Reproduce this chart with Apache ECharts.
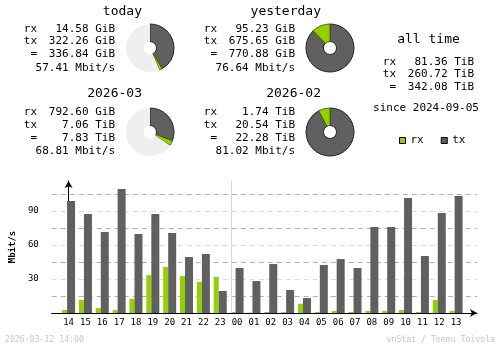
<!DOCTYPE html>
<html>
<head>
<meta charset="utf-8">
<script src="https://cdn.jsdelivr.net/npm/echarts@6/dist/echarts.min.js"></script>
<style>
html,body{margin:0;padding:0;background:#fff;}
#c{width:500px;height:348px;}
</style>
</head>
<body>
<div id="c"></div>
<script>
// ---- data ----
const hours = ['14','15','16','17','18','19','20','21','22','23','00','01','02','03','04','05','06','07','08','09','10','11','12','13'];
const rxRate = [2.6, 11.5, 4.4, 2.6, 12.4, 33.5, 40.6, 32.6, 27.4, 31.8, 0.9, 0.3, 0.9, 0.9, 8.2, 0.9, 1.8, 0.9, 1.8, 1.8, 2.6, 0.9, 11.5, 1.8];
const txRate = [98.8, 87.4, 71.5, 109.4, 69.7, 87.4, 70.6, 49.4, 52.1, 19.4, 39.7, 28.2, 43.2, 20.3, 13.2, 42.4, 47.6, 39.7, 75.9, 75.9, 101.5, 50.3, 88.2, 103.2];
const yTicks = [30, 60, 90];

// pie values: [tx, rx, remaining estimate]
const todayPie = [322.26, 14.58, 437];      // GiB
const yesterdayPie = [675.65, 95.23, 0];    // GiB
const monthPie = [7.06, 0.774, 14.93];      // TiB
const prevMonthPie = [20.54, 1.74, 0];      // TiB

const todayText = ['rx', '14.58 GiB', 'tx', '322.26 GiB', '=', '336.84 GiB', '57.41 Mbit/s'];
const yesterdayText = ['rx', '95.23 GiB', 'tx', '675.65 GiB', '=', '770.88 GiB', '76.64 Mbit/s'];
const monthText = ['rx', '792.60 GiB', 'tx', '7.06 TiB', '=', '7.83 TiB', '68.81 Mbit/s'];
const prevMonthText = ['rx', '1.74 TiB', 'tx', '20.54 TiB', '=', '22.28 TiB', '81.02 Mbit/s'];
const allTimeText = ['rx', '81.36 TiB', 'tx', '260.72 TiB', '=', '342.08 TiB'];
const sinceText = 'since 2024-09-05';
const footerLeft = '2026-03-12 14:00';
const footerRight = 'vnStat / Teemu Toivola';

// ---- style ----
const RX = '#94d000', TX = '#606060', REST = '#efefef';
const MONO = '"DejaVu Sans Mono", "Liberation Mono", monospace';

const chart = echarts.init(document.getElementById('c'), null, {renderer: 'canvas'});

function pieSeries(vals, cx, cy) {
  return {
    type: 'pie', silent: true, animation: false,
    center: [cx, cy], radius: [6.5, 24], startAngle: 90, clockwise: true,
    label: {show: false}, labelLine: {show: false},
    emphasis: {disabled: true},
    data: [
      {value: vals[0], itemStyle: {color: TX, borderColor: '#222', borderWidth: 1}},
      {value: vals[1], itemStyle: {color: RX, borderColor: '#4a6b00', borderWidth: 1}},
      {value: vals[2], itemStyle: {color: REST, borderWidth: 0}}
    ]
  };
}

function txt(text, x, y, align, size, color, weight) {
  return {
    type: 'text', x: x, y: y, silent: true,
    style: {text: text, align: align, verticalAlign: 'middle',
      font: (weight || 'normal') + ' ' + size + 'px ' + MONO, fill: color || '#000'}
  };
}

function block(t, labelRight, valueRight, ys) {
  return [
    txt(t[0], labelRight, ys[0], 'right', 11), txt(t[1], valueRight, ys[0], 'right', 11),
    txt(t[2], labelRight, ys[1], 'right', 11), txt(t[3], valueRight, ys[1], 'right', 11),
    txt(t[4], labelRight, ys[2], 'right', 11), txt(t[5], valueRight, ys[2], 'right', 11),
    txt(t[6], valueRight, ys[3], 'right', 11)
  ];
}

const graphics = [].concat(
  [txt('today', 142, 11.5, 'right', 13)],
  block(todayText, 37, 115, [29, 41.5, 54.5, 68]),
  [txt('yesterday', 321, 11.5, 'right', 13)],
  block(yesterdayText, 217, 295, [29, 41.5, 54.5, 68]),
  [txt('2026-03', 142, 94, 'right', 13)],
  block(monthText, 37, 115, [112.5, 125, 138, 151.5]),
  [txt('2026-02', 321, 94, 'right', 13)],
  block(prevMonthText, 217, 295, [112.5, 125, 138, 151.5]),
  [txt('all time', 428.5, 40, 'center', 13),
   txt(allTimeText[0], 396, 62, 'right', 11), txt(allTimeText[1], 474, 62, 'right', 11),
   txt(allTimeText[2], 396, 74.5, 'right', 11), txt(allTimeText[3], 474, 74.5, 'right', 11),
   txt(allTimeText[4], 396, 87.5, 'right', 11), txt(allTimeText[5], 474, 87.5, 'right', 11),
   txt(sinceText, 426, 108, 'center', 11),
   txt(footerLeft, 5, 340, 'left', 8.2, '#c8c8c8'),
   txt(footerRight, 495, 340, 'right', 8.2, '#c8c8c8')]
);

const option = {
  animation: false,
  backgroundColor: '#fff',
  grid: {left: 48, right: 23, top: 181, bottom: 35, containLabel: false},
  legend: {
    left: 394, top: 130, itemWidth: 6, itemHeight: 6, itemGap: 17, icon: 'rect',
    selectedMode: false,
    itemStyle: {borderColor: '#000', borderWidth: 1},
    textStyle: {fontFamily: MONO, fontSize: 11, color: '#000'},
    data: ['rx', 'tx']
  },
  xAxis: {
    type: 'value', min: -1, max: 24.24, interval: 1,
    axisLine: {show: true, onZero: true, lineStyle: {color: '#000', width: 1},
      symbol: ['none', 'arrow'], symbolSize: [6, 7]},
    axisTick: {show: false},
    splitLine: {show: false},
    axisLabel: {
      fontFamily: MONO, fontSize: 9, color: '#000', margin: 5,
      showMinLabel: true, showMaxLabel: true,
      formatter: function (v) { return Number.isInteger(v) && hours[v] !== undefined ? hours[v] : ''; }
    }
  },
  yAxis: {
    type: 'value', min: 0, max: 116.5, interval: 15,
    name: 'Mbit/s', nameLocation: 'middle', nameGap: 31, nameRotate: 90,
    nameTextStyle: {fontFamily: MONO, fontSize: 9, fontWeight: 'bold', color: '#000'},
    axisLine: {show: true, lineStyle: {color: '#000', width: 1},
      symbol: ['none', 'arrow'], symbolSize: [6, 7]},
    axisTick: {show: false},
    axisLabel: {
      fontFamily: MONO, fontSize: 9, color: '#000', margin: 13,
      formatter: function (v) { return yTicks.indexOf(v) >= 0 ? String(v) : ''; }
    },
    splitLine: {show: true, showMinLine: false, showMaxLine: false,
      lineStyle: {color: ['#b0b0b0', '#dcdcdc'], type: [5, 4], width: 1}}
  },
  series: [
    {
      name: 'rx', type: 'bar', barWidth: 5, barGap: 0,
      itemStyle: {color: RX},
      emphasis: {disabled: true},
      data: hours.map(function (h, i) { return [i, rxRate[i]]; })
    },
    {
      name: 'tx', type: 'bar', barWidth: 8, barGap: 0,
      itemStyle: {color: TX},
      emphasis: {disabled: true},
      data: hours.map(function (h, i) { return [i, txRate[i]]; }),
      markLine: {
        silent: true, symbol: ['none', 'none'], label: {show: false},
        lineStyle: {color: '#d8d8d8', type: 'solid', width: 1},
        data: [{xAxis: 9.5}]
      }
    },
    pieSeries(todayPie, 150, 48),
    pieSeries(yesterdayPie, 330, 48),
    pieSeries(monthPie, 150, 132),
    pieSeries(prevMonthPie, 330, 132)
  ],
  graphic: graphics
};

chart.setOption(option);
</script>
</body>
</html>
